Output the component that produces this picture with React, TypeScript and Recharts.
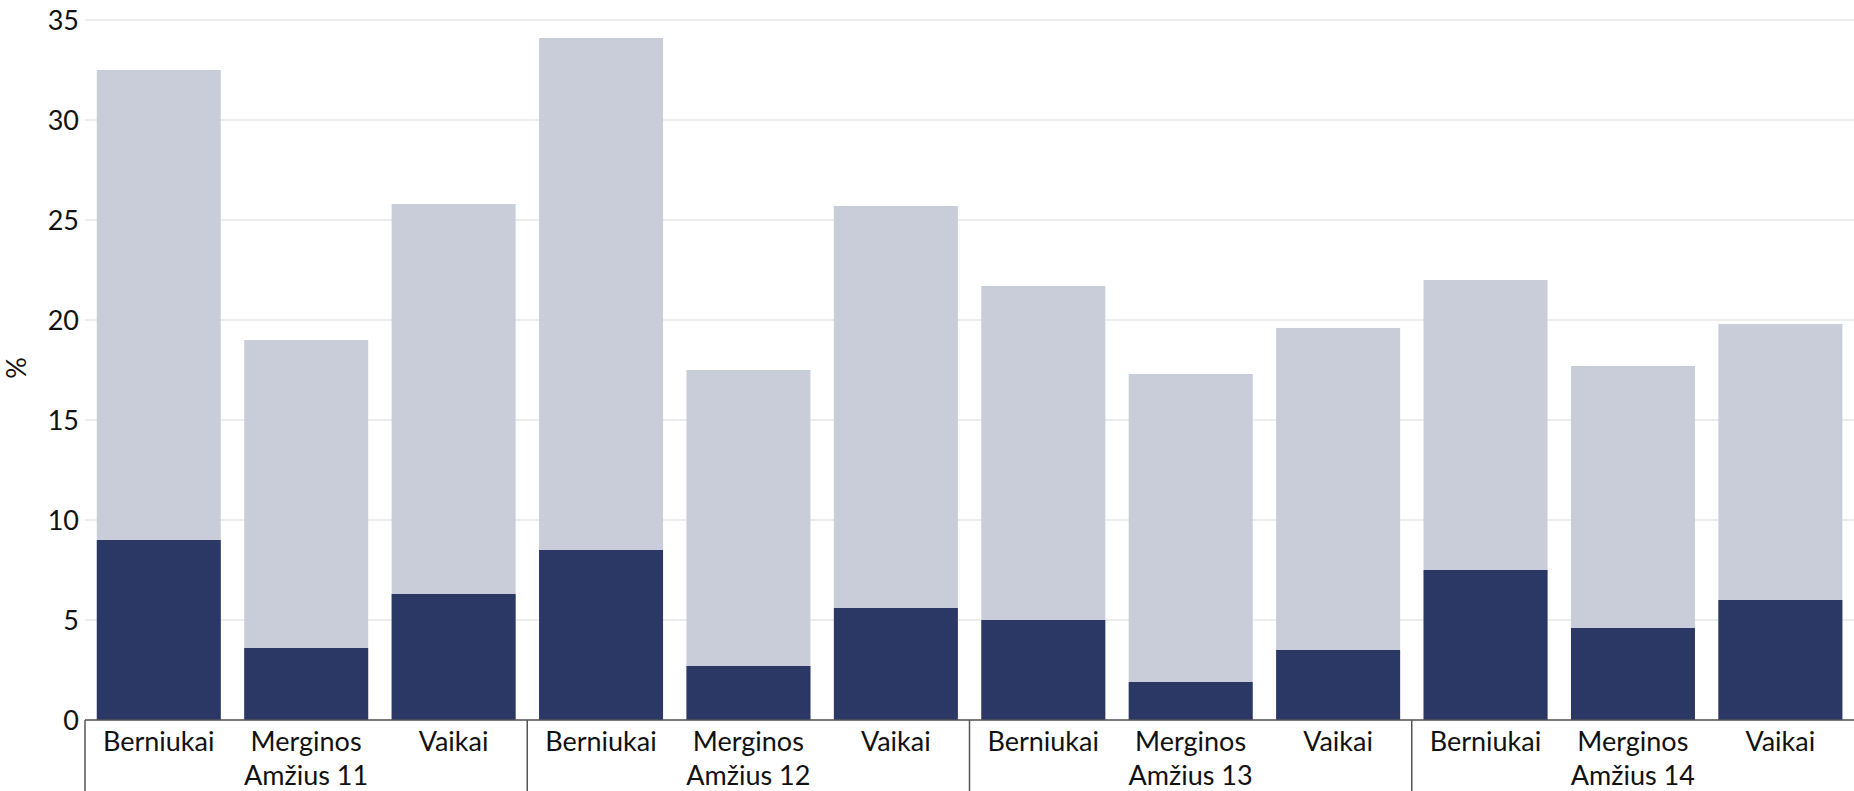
import { BarChart, Bar, XAxis, YAxis, CartesianGrid } from "recharts";

const ages = ["Amžius 11", "Amžius 12", "Amžius 13", "Amžius 14"];
const groups = ["Berniukai", "Merginos", "Vaikai"];
const totalValues = [32.5, 19.0, 25.8, 34.1, 17.5, 25.7, 21.7, 17.3, 19.6, 22.0, 17.7, 19.8];
const darkValues = [9.0, 3.6, 6.3, 8.5, 2.7, 5.6, 5.0, 1.9, 3.5, 7.5, 4.6, 6.0];
const yTicks = [0, 5, 10, 15, 20, 25, 30, 35];

const data = totalValues.map((v, i) => ({
  key: String(i),
  group: groups[i % 3],
  age: ages[Math.floor(i / 3)],
  total: v,
  dark: darkValues[i],
}));

const FONT = "Lato, 'Noto Sans', sans-serif";
const FS = 27;
const W = 1854;
const H = 791;
const LEFT = 85;
const BAND = (W - LEFT) / data.length;

const GroupTick = (props: any) => {
  const { x, y, index } = props;
  const half = props.payload?.offset || BAND / 2;
  const item = data[index];
  if (!item) return null;
  return (
    <g>
      {index % 3 === 0 && (
        <line x1={x - half} x2={x - half} y1={y} y2={y + 75} stroke="#555" strokeWidth={1.5} />
      )}
      <text x={x} y={y + 31} textAnchor="middle" fontSize={FS} fontFamily={FONT} fill="#111">
        {item.group}
      </text>
      {index % 3 === 1 && (
        <text x={x} y={y + 65} textAnchor="middle" fontSize={FS} fontFamily={FONT} fill="#111">
          {item.age}
        </text>
      )}
    </g>
  );
};

const PercentLabel = () => (
  <text
    x={26}
    y={368}
    transform="rotate(-90 26 368)"
    textAnchor="middle"
    fontSize={FS}
    fontFamily={FONT}
    fill="#111"
  >
    %
  </text>
);

export default function App() {
  return (
    <div style={{ position: "absolute", left: 0, top: 0, width: W, height: H, background: "#fff" }}>
      <BarChart
        width={W}
        height={H}
        data={data}
        margin={{ top: 20, right: 0, bottom: 0, left: 0 }}
        barCategoryGap="8%"
      >
        <CartesianGrid vertical={false} stroke="#ececec" strokeWidth={2} />
        <XAxis
          dataKey="key"
          interval={0}
          height={71}
          tickLine={false}
          tickSize={0}
          tickMargin={0}
          axisLine={{ stroke: "#555", strokeWidth: 1.5 }}
          tick={<GroupTick />}
        />
        <XAxis xAxisId="overlay" dataKey="key" hide />
        <YAxis
          width={LEFT}
          domain={[0, 35]}
          ticks={yTicks}
          interval={0}
          axisLine={false}
          tickLine={false}
          tickSize={0}
          tickMargin={6}
          tick={{ fontSize: FS, fontFamily: FONT, fill: "#111" }}
          label={<PercentLabel />}
        />
        <Bar dataKey="total" fill="#c9ccd9" isAnimationActive={false} />
        <Bar dataKey="dark" xAxisId="overlay" fill="#2b3765" isAnimationActive={false} />
      </BarChart>
    </div>
  );
}
